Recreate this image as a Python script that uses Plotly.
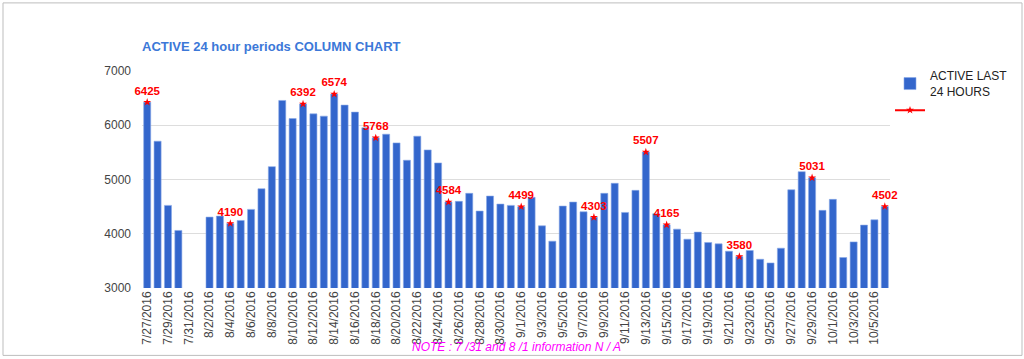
import datetime as dt
import plotly.graph_objects as go

start = dt.date(2016, 7, 27)
dates = [f"{d.month}/{d.day}/{d.year}" for d in (start + dt.timedelta(days=i) for i in range(72))]

active = [6425, 5706, 4523, 4061, None, None, 4307, 4325, 4190, 4245,
          4449, 4830, 5237, 6457, 6124, 6392, 6210, 6168, 6574, 6371,
          6242, 5952, 5768, 5835, 5675, 5355, 5798, 5545, 5305, 4584,
          4597, 4745, 4418, 4695, 4547, 4523, 4499, 4671, 4146, 3863,
          4510, 4584, 4405, 4303, 4745, 4930, 4393, 4800, 5507, 4368,
          4165, 4085, 3900, 4030, 3839, 3814, 3678, 3580, 3691, 3530,
          3462, 3734, 4811, 5144, 5031, 4431, 4634, 3562, 3850, 4159,
          4257, 4502]

marked_dates = ["7/27/2016", "8/4/2016", "8/11/2016", "8/14/2016", "8/18/2016",
                "8/25/2016", "9/1/2016", "9/8/2016", "9/13/2016", "9/15/2016",
                "9/22/2016", "9/29/2016", "10/6/2016"]
marked_values = [6425, 4190, 6392, 6574, 5768, 4584, 4499, 4303, 5507, 4165,
                 3580, 5031, 4502]

tick_labels = dates[::2]
y_ticks = [3000, 4000, 5000, 6000, 7000]

mark_map = dict(zip(marked_dates, marked_values))
marked_series = [mark_map.get(d) for d in dates]

FONT = "Liberation Sans, Arial, sans-serif"

fig = go.Figure()
fig.add_trace(go.Bar(
    x=dates, y=active, name="ACTIVE LAST<br>24 HOURS",
    marker=dict(color="#3366cc", line=dict(color="#8aaae8", width=0.6)),
))
fig.add_trace(go.Scatter(
    x=dates, y=marked_series, name=" ",
    mode="lines+markers+text",
    line=dict(color="#ff0000", width=2),
    marker=dict(symbol="star", size=6, color="#ff0000"),
    text=[str(v) if v is not None else "" for v in marked_series],
    textposition="top center",
    textfont=dict(family=FONT, size=11.5, color="#ff0000", weight="bold"),
    connectgaps=False, cliponaxis=False,
))

fig.update_layout(
    width=1024, height=359,
    margin=dict(l=142, r=134, t=71, b=71, autoexpand=False),
    paper_bgcolor="white", plot_bgcolor="white",
    bargap=0.32,
    showlegend=True,
    legend=dict(x=1.0, y=1.044, xanchor="left", yanchor="top",
                font=dict(family=FONT, size=12, color="#222222"),
                bgcolor="rgba(0,0,0,0)", tracegroupgap=6),
    title=dict(text="<b>ACTIVE 24 hour periods COLUMN CHART</b>",
               x=142/1024, xanchor="left", y=1-46/359, yanchor="middle",
               font=dict(family=FONT, size=13, color="#3c78d8")),
    font=dict(family=FONT),
    xaxis=dict(type="category", categoryorder="array", categoryarray=dates,
               tickmode="array", tickvals=tick_labels, ticktext=tick_labels,
               tickangle=-90, tickfont=dict(size=12, color="#444444"),
               showgrid=False, showline=False, ticks="", range=[-0.5, 71.5],
               automargin=False),
    yaxis=dict(range=[3000, 7000], tickvals=y_ticks, tickformat="d",
               tickfont=dict(size=12, color="#444444"),
               gridcolor="#dddddd", zeroline=False, showline=False, ticks="",
               ticklabelstandoff=10, automargin=False),
    shapes=[dict(type="rect", xref="paper", yref="paper",
                 x0=(3-142)/748, x1=(1022-142)/748,
                 y0=(287.7-355)/216.7, y1=(287.7-3)/216.7,
                 line=dict(color="#bdbdbd", width=1), layer="below")],
    annotations=[dict(text="<i>NOTE : 7 /31 and 8 /1 information N / A</i>",
                      xref="paper", yref="paper",
                      x=(516-142)/748, y=(287.7-347)/216.7,
                      xanchor="center", yanchor="middle", showarrow=False,
                      font=dict(family=FONT, size=12, color="#ff00ff"))],
)

fig.write_html("out.html",
               config={"displayModeBar": False},
               post_script="document.body.style.margin='0';document.body.style.overflow='hidden';")
